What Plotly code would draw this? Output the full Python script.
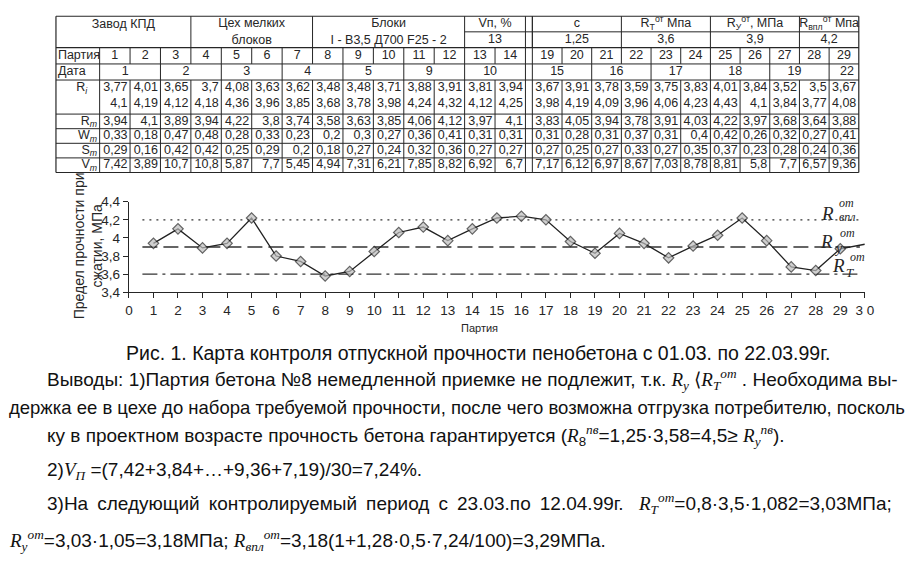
import plotly.graph_objects as go

# ------------------------------------------------------------------ data
batches_left = list(range(1, 15))
batches_right = list(range(19, 30))
batches = batches_left + batches_right

dates = ["1", "2", "3", "4", "5", "9", "10", "15", "16", "17", "18", "19", "22"]
date_first = [1, 3, 5, 7, 9, 11, 13, 19, 21, 23, 25, 27, 29]
date_last = [2, 4, 6, 8, 10, 12, 14, 20, 22, 24, 26, 28, 29]

ri_1 = [3.77, 4.01, 3.65, 3.7, 4.08, 3.63, 3.62, 3.48, 3.48, 3.71, 3.88, 3.91, 3.81, 3.94,
        3.67, 3.91, 3.78, 3.59, 3.75, 3.83, 4.01, 3.84, 3.52, 3.5, 3.67]
ri_2 = [4.1, 4.19, 4.12, 4.18, 4.36, 3.96, 3.85, 3.68, 3.78, 3.98, 4.24, 4.32, 4.12, 4.25,
        3.98, 4.19, 4.09, 3.96, 4.06, 4.23, 4.43, 4.1, 3.84, 3.77, 4.08]
rm = [3.94, 4.1, 3.89, 3.94, 4.22, 3.8, 3.74, 3.58, 3.63, 3.85, 4.06, 4.12, 3.97, 4.1,
      3.83, 4.05, 3.94, 3.78, 3.91, 4.03, 4.22, 3.97, 3.68, 3.64, 3.88]
wm = [0.33, 0.18, 0.47, 0.48, 0.28, 0.33, 0.23, 0.2, 0.3, 0.27, 0.36, 0.41, 0.31, 0.31,
      0.31, 0.28, 0.31, 0.37, 0.31, 0.4, 0.42, 0.26, 0.32, 0.27, 0.41]
sm = [0.29, 0.16, 0.42, 0.42, 0.25, 0.29, 0.2, 0.18, 0.27, 0.24, 0.32, 0.36, 0.27, 0.27,
      0.27, 0.25, 0.27, 0.33, 0.27, 0.35, 0.37, 0.23, 0.28, 0.24, 0.36]
vm = [7.42, 3.89, 10.7, 10.8, 5.87, 7.7, 5.45, 4.94, 7.31, 6.21, 7.85, 8.82, 6.92, 6.7,
      7.17, 6.12, 6.97, 8.67, 7.03, 8.78, 8.81, 5.8, 7.7, 6.57, 9.36]

vn_pct = 13
c_coef = 1.25
r_t = 3.6
r_y = 3.9
r_vpl = 4.2

left_groups = ["Завод КПД", "Цех мелких<br>блоков", "Блоки<br>I - В3,5 Д700 F25 - 2"]
left_group_first = [0, 4, 8]      # 0 = starts at the label column
left_group_last = [3, 7, 12]
right_groups = ["Vп, %", "c", "R<sub>T</sub><sup>от</sup> Мпа", "R<sub>У</sub><sup>от</sup>, МПа",
                "R<sub>впл</sub><sup>от</sup> Мпа"]
right_group_vals = [vn_pct, c_coef, r_t, r_y, r_vpl]
right_group_first = [13, 19, 22, 25, 28]
right_group_last = [14, 21, 24, 27, 29]

row_labels = ["Партия", "Дата", "R<sub><i>i</i></sub>", "R<sub><i>m</i></sub>",
              "W<sub><i>m</i></sub>", "S<sub><i>m</i></sub>", "V<sub><i>m</i></sub>"]

chart_x = list(range(1, 31))
chart_rm = [3.94, 4.10, 3.89, 3.94, 4.22, 3.80, 3.74, 3.58, 3.63, 3.85, 4.06, 4.12, 3.97, 4.10,
            4.22, 4.24, 4.20, 3.96,
            3.83, 4.05, 3.94, 3.78, 3.91, 4.03, 4.22, 3.97, 3.68, 3.64, 3.88, 3.93]
x_ticks = list(range(0, 31))
x_ticktext = [str(v) for v in range(0, 30)] + ["3 0"]
y_ticks = [3.4, 3.6, 3.8, 4.0, 4.2, 4.4]

# ------------------------------------------------------------------ layout helpers
W, H = 923, 567
FONT = "Liberation Sans, Arial, sans-serif"
SERIF = "Liberation Serif, Times New Roman, serif"
INK = "#262626"


def fmt(v):
    return format(v, "g").replace(".", ",")


TL = 52.7
LABEL_W = 44.3
W_L = 30.85
GAP = 7.0
W_R = 30.1


def col_edges(b):
    if b == 0:
        return TL, TL + LABEL_W
    if b <= 14:
        x0 = TL + LABEL_W + (b - 1) * W_L
        return x0, x0 + W_L
    x0 = TL + LABEL_W + 14 * W_L + GAP + (b - 19) * W_R
    return x0, x0 + W_R


RIGHT_END = col_edges(29)[1]
Y_TOP, Y_HA, Y_HB = 9.5, 25.5, 41.7
row_edges = [41.7, 58.5, 75.0, 110.0, 125.0, 140.0, 155.0, 170.0]

fig = go.Figure()
shapes = []


def hline(y, x0, x1, w=1.0):
    shapes.append(dict(type="line", xref="x2", yref="y2", x0=x0, x1=x1, y0=y, y1=y,
                       line=dict(color=INK, width=w)))


def vline(x, y0, y1, w=1.0):
    shapes.append(dict(type="line", xref="x2", yref="y2", x0=x, x1=x, y0=y0, y1=y1,
                       line=dict(color=INK, width=w)))


# horizontal lines
hline(Y_TOP, TL, RIGHT_END, 1.2)
hline(Y_HA, col_edges(13)[0], RIGHT_END)
for y in row_edges:
    hline(y, TL, RIGHT_END, 1.2 if y in (row_edges[0], row_edges[-1]) else 1.0)

# vertical lines
vline(TL, Y_TOP, row_edges[-1], 1.2)
vline(RIGHT_END, Y_TOP, row_edges[-1], 1.2)
vline(col_edges(0)[1], Y_HB, row_edges[-1])
for f in left_group_first[1:] + right_group_first:
    vline(col_edges(f)[0], Y_TOP, Y_HB)
vline(col_edges(14)[1], Y_TOP, row_edges[-1])
vline(col_edges(19)[0], Y_TOP, row_edges[-1])
for b in batches:
    if b in (14, 29):
        continue
    x = col_edges(b)[1]
    vline(x, row_edges[0], row_edges[1])
    vline(x, row_edges[2], row_edges[-1])
for l in date_last:
    if l in (14, 29):
        continue
    vline(col_edges(l)[1], row_edges[1], row_edges[2])

# ----- table text
tfont = dict(family=FONT, size=12.5, color=INK)


def rc(i):
    return (row_edges[i] + row_edges[i + 1]) / 2


tx, ty, tt = [], [], []   # centred text
rx, ry, rt = [], [], []   # right aligned text
lx, ly, lt = [], [], []   # left aligned text

for name, f, l in zip(left_groups, left_group_first, left_group_last):
    tx.append((col_edges(f)[0] + col_edges(l)[1]) / 2)
    ty.append(26.0 if "<br>" in name else 18.0)
    tt.append(name)
for name, v, f, l in zip(right_groups, right_group_vals, right_group_first, right_group_last):
    cx = (col_edges(f)[0] + col_edges(l)[1]) / 2
    tx += [cx, cx]
    ty += [17.5, 33.5]
    tt += [name, fmt(v)]

for b in batches:
    tx.append(sum(col_edges(b)) / 2)
    ty.append(rc(0))
    tt.append(str(b))

for d, f, l in zip(dates, date_first, date_last):
    if f == l:
        rx.append(col_edges(l)[1] - 5)
        ry.append(rc(1))
        rt.append(d)
    else:
        tx.append((col_edges(f)[0] + col_edges(l)[1]) / 2 - 5)
        ty.append(rc(1))
        tt.append(d)

lx += [TL + 2, TL + 2]
ly += [rc(0), rc(1)]
lt += row_labels[:2]
tx.append(TL + LABEL_W / 2 + 4)
ty.append(83.0)
tt.append(row_labels[2])
for i, lab in enumerate(row_labels[3:]):
    rx.append(TL + LABEL_W - 2.5)
    ry.append(rc(3 + i))
    rt.append(lab)

for j, b in enumerate(batches):
    xr = col_edges(b)[1] - 2.5
    rx += [xr, xr, xr, xr, xr, xr]
    ry += [83.0, 99.0, rc(3), rc(4), rc(5), rc(6)]
    rt += [fmt(ri_1[j]), fmt(ri_2[j]), fmt(rm[j]), fmt(wm[j]), fmt(sm[j]), fmt(vm[j])]

for xs, ys, ts, pos in ((tx, ty, tt, "middle center"), (rx, ry, rt, "middle left"),
                        (lx, ly, lt, "middle right")):
    fig.add_trace(go.Scatter(x=xs, y=ys, text=ts, mode="text", textposition=pos,
                             textfont=tfont, xaxis="x2", yaxis="y2", showlegend=False,
                             hoverinfo="skip"))

# ------------------------------------------------------------------ chart
LX0, LX1 = 0.55, 29.8
fig.add_trace(go.Scatter(x=[LX0, LX1], y=[r_vpl, r_vpl], mode="lines",
                         line=dict(color="#333", width=1.3, dash="2px,5px"), showlegend=False))
fig.add_trace(go.Scatter(x=[LX0, LX1], y=[r_y, r_y], mode="lines",
                         line=dict(color="#333", width=1.3, dash="15px,6px"), showlegend=False))
fig.add_trace(go.Scatter(x=[LX0, LX1], y=[r_t, r_t], mode="lines",
                         line=dict(color="#333", width=1.3, dash="15px,5px,3px,5px"),
                         showlegend=False))
fig.add_trace(go.Scatter(x=chart_x, y=chart_rm, mode="lines+markers",
                         line=dict(color="#222", width=1.3),
                         marker=dict(symbol="diamond", size=[8] * 29 + [0], color="#bdbdbd",
                                     line=dict(color="#222", width=1.2)),
                         showlegend=False))

axfont = dict(family=FONT, size=13.5, color=INK)
fig.update_layout(
    width=W, height=H, autosize=False,
    margin=dict(l=0, r=0, t=0, b=0),
    paper_bgcolor="white", plot_bgcolor="rgba(0,0,0,0)",
    separators=", ",
    shapes=shapes,
    xaxis=dict(domain=[126.7 / W, 873.1 / W], range=[0, 30], tickvals=x_ticks,
               ticktext=x_ticktext, ticks="outside", ticklen=5, tickcolor=INK,
               showline=True, linecolor=INK, linewidth=1.3, showgrid=False, zeroline=False,
               tickfont=axfont, anchor="y", fixedrange=True),
    yaxis=dict(domain=[1 - 293 / H, 1 - 200 / H], range=[3.4, 4.4], tickvals=y_ticks,
               ticktext=[fmt(v) for v in y_ticks], ticks="outside", ticklen=5,
               tickcolor=INK, showline=True, linecolor=INK, linewidth=1.3, showgrid=False,
               zeroline=False, tickfont=axfont, anchor="x", fixedrange=True),
    xaxis2=dict(domain=[0, 1], range=[0, W], visible=False, anchor="y2", fixedrange=True),
    yaxis2=dict(domain=[0, 1], range=[H, 0], visible=False, anchor="x2", fixedrange=True),
)

ann = []


def px(x):
    return x / W


def py(y):
    return 1 - y / H


# axis titles
ann.append(dict(text="Предел прочности при<br>сжатии, МПа", textangle=-90, x=px(85), y=py(245),
                xref="paper", yref="paper", xanchor="center", yanchor="middle",
                showarrow=False, font=dict(family=FONT, size=14, color=INK)))
ann.append(dict(text="Партия", x=px(482), y=py(330), xref="paper", yref="paper",
                xanchor="center", yanchor="middle",
                showarrow=False, font=dict(family=FONT, size=11, color=INK)))

# line labels (handwritten style): big R, superscript and subscript stacked to its right
hand = dict(family=SERIF, size=19, color=INK)
for sub, sub_size, (rxp, ryp), (sx, sy), (ux, uy) in (
        ("впл", 12, (28.47, r_vpl + 0.071), (28.90, r_vpl + 0.028), (28.92, r_vpl + 0.189)),
        ("y", 14, (28.43, r_y + 0.059), (28.72, r_y - 0.016), (28.96, r_y + 0.156)),
        ("T", 13, (28.91, r_t + 0.090), (29.20, r_t + 0.015), (29.36, r_t + 0.187))):
    ann.append(dict(text="<i>R</i>", x=rxp, y=ryp, xref="x", yref="y", showarrow=False,
                    xanchor="center", yanchor="middle", font=hand, borderpad=0))
    ann.append(dict(text="<i>%s</i>" % sub, x=sx, y=sy, xref="x", yref="y", showarrow=False,
                    xanchor="left", yanchor="middle", borderpad=0,
                    font=dict(family=SERIF, size=sub_size, color=INK)))
    ann.append(dict(text="<i>om</i>", x=ux, y=uy, xref="x", yref="y", showarrow=False,
                    xanchor="left", yanchor="middle", borderpad=0,
                    font=dict(family=SERIF, size=12, color=INK)))


def M(s):
    return "<span style=\"font-family:'Liberation Serif',serif\"><i>%s</i></span>" % s


SP = " \u2009"
lines = [
    ("Рис. 1. Карта контроля отпускной прочности пенобетона с 01.03. по 22.03.99г.", 481, 355,
     "center", 19.5),
    ("Выводы: 1)Партия бетона №8 немедленной приемке не подлежит, т.к. " + M("R") +
     "<sub>" + M("y") + "</sub> ⟨" + M("R") + "<sub>" + M("T") + "</sub><sup>" + M("om") +
     "</sup> . Необходима вы-", 42, 383, "left", 19),
    ("держка ее в цехе до набора требуемой прочности, после чего возможна отгрузка потребителю, посколь",
     3, 411, "left", 18.5),
    ("ку в проектном возрасте прочность бетона гарантируется (" + M("R") + "<sub>8</sub><sup>" +
     M("пв") + "</sup>=1,25·3,58=4,5≥ " + M("R") + "<sub>" + M("y") + "</sub><sup>" + M("пв") +
     "</sup>).", 42, 440, "left", 19),
    ("2)" + M("V") + "<sub>" + M("П") + "</sub> =(7,42+3,84+…+9,36+7,19)/30=7,24%.", 42, 477,
     "left", 19),
    (SP.join("3)На следующий контролируемый период с 23.03.по 12.04.99г.".split(" ")), 42, 510,
     "left", 19),
    (M("R") + "<sub>" + M("T") + "</sub><sup>" + M("om") + "</sup>=0,8·3,5·1,082=3,03МПа;",
     903, 510, "right", 19),
    (M("R") + "<sub>" + M("y") + "</sub><sup>" + M("om") + "</sup>=3,03·1,05=3,18МПа; " + M("R") +
     "<sub>" + M("впл") + "</sub><sup>" + M("om") + "</sup>=3,18(1+1,28·0,5·7,24/100)=3,29МПа.",
     3, 548, "left", 19),
]
for text, x, y, anchor, size in lines:
    ann.append(dict(text=text, x=px(x), y=py(y), xref="paper", yref="paper", showarrow=False,
                    xanchor=anchor, yanchor="middle",
                    font=dict(family=FONT, size=size, color="#111")))

fig.update_layout(annotations=ann)
fig.write_html("out.html")
